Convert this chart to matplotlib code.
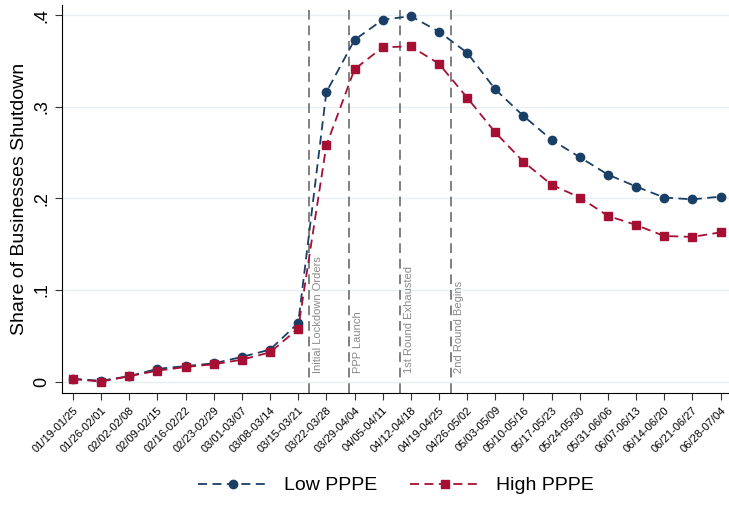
import matplotlib.pyplot as plt

plt.rcParams['font.family'] = ['Liberation Sans', 'DejaVu Sans']

weeks = ['01/19-01/25', '01/26-02/01', '02/02-02/08', '02/09-02/15', '02/16-02/22',
         '02/23-02/29', '03/01-03/07', '03/08-03/14', '03/15-03/21', '03/22-03/28',
         '03/29-04/04', '04/05-04/11', '04/12-04/18', '04/19-04/25', '04/26-05/02',
         '05/03-05/09', '05/10-05/16', '05/17-05/23', '05/24-05/30', '05/31-06/06',
         '06/07-06/13', '06/14-06/20', '06/21-06/27', '06/28-07/04']

low_pppe = [0.003, 0.001, 0.006, 0.014, 0.017, 0.020, 0.027, 0.035, 0.064, 0.316,
            0.373, 0.395, 0.399, 0.382, 0.359, 0.319, 0.290, 0.264, 0.245, 0.226,
            0.213, 0.201, 0.199, 0.202]
high_pppe = [0.003, 0.000, 0.006, 0.012, 0.016, 0.019, 0.024, 0.032, 0.058, 0.258,
             0.341, 0.365, 0.366, 0.347, 0.310, 0.272, 0.240, 0.215, 0.201, 0.181,
             0.171, 0.159, 0.158, 0.163]

# event markers (position in week units)
events = ['Initial Lockdown Orders', 'PPP Launch', '1st Round Exhausted', '2nd Round Begins']
event_pos = [8.39, 9.80, 11.61, 13.41]

blue = '#1a3f66'
red = '#a50f33'

fig = plt.figure(figsize=(7.29, 5.12), dpi=100)
ax = fig.add_axes([0.085, 0.232, 0.915, 0.758])

x = list(range(len(weeks)))
ax.plot(x, low_pppe, color=blue, linestyle=(0, (5, 3)), lw=1.3, marker='o',
        markersize=6, label='Low PPPE')
ax.plot(x, high_pppe, color=red, linestyle=(0, (5, 3)), lw=1.3, marker='s',
        markersize=6, label='High PPPE')

for name, pos in zip(events, event_pos):
    ax.axvline(pos, color='#808080', linestyle=(0, (5, 3)), lw=1.4, zorder=1)
    ax.text(pos + 0.13, 0.01, name, rotation=90, color='#8a8a8a', fontsize=8,
            ha='left', va='bottom')

ax.set_xlim(-0.39, 23.3)
ax.set_ylim(-0.0126, 0.411)
ax.set_yticks([0, 0.1, 0.2, 0.3, 0.4])
ax.set_yticklabels(['0', '.1', '.2', '.3', '.4'], rotation=90, va='center', fontsize=13)
ax.set_xticks(x)
ax.set_xticklabels(weeks, rotation=45, ha='right', rotation_mode='anchor', fontsize=8)
ax.tick_params(axis='both', direction='out', length=5, color='#333333')
ax.set_ylabel('Share of Businesses Shutdown', fontsize=14)
ax.grid(axis='y', color='#e6eff2', lw=1)
ax.set_axisbelow(True)
for s in ['top', 'right']:
    ax.spines[s].set_visible(False)

fig.legend(loc='lower center', bbox_to_anchor=(0.543, 0.0), ncol=2, frameon=False,
           fontsize=14, handlelength=3.6, columnspacing=1.7)

plt.savefig('out.png', dpi=100)
